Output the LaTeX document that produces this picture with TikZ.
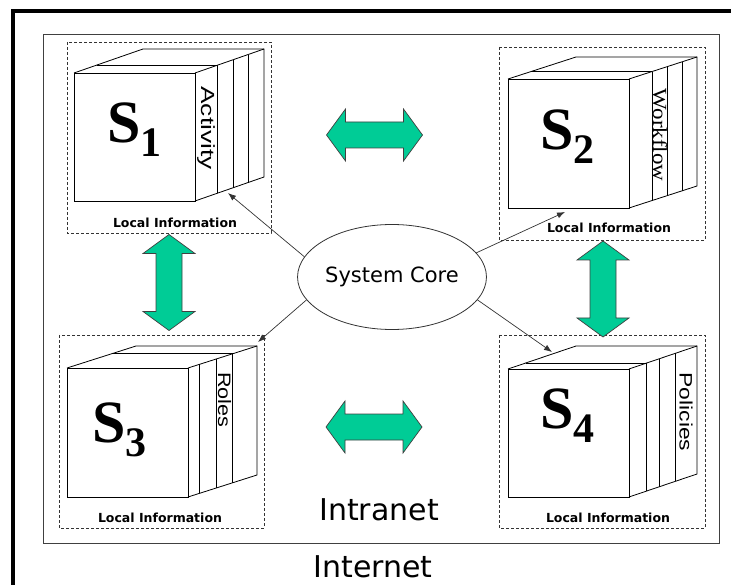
\documentclass[tikz,border=0pt]{standalone}
\usepackage{fontspec}
\usepackage{tikz}
\usetikzlibrary{shapes.geometric,arrows.meta}
\newfontfamily\comicfont{DejaVu Sans}
\newfontfamily\arialfont{Liberation Sans}
\newfontfamily\timesfont{Liberation Serif}
\definecolor{linkgreen}{RGB}{0,204,150}
\tikzset{
  boxline/.style={draw=black, line width=0.8pt},
  infobox/.style={draw=black!80, line width=0.7pt, dash pattern=on 3pt off 2pt},
  linkarrow/.style={fill=linkgreen, draw=black!75, line width=0.7pt},
  corearrow/.style={draw=black!80, line width=0.7pt, -{Latex[length=8pt,width=6pt]}},
  localtext/.style={inner sep=0, font=\comicfont\bfseries\fontsize{12.5}{13}\selectfont},
  bigtext/.style={inner sep=0, font=\comicfont\fontsize{30}{30}\selectfont}
}
\newcommand{\sysbox}[6] {\draw[boxline] (#1,#2) rectangle (#3,#4);
  \draw[boxline] (#1,#2) -- (#1+#5,#2-#6) -- (#3+#5,#2-#6) -- (#3+#5,#4-#6) -- (#3,#4);
  \draw[boxline] (#3,#2) -- (#3+#5,#2-#6);}
\newcommand{\sysslab}[7] {\draw[boxline] (#3+#7*#5,#2-#7*#6) -- (#3+#7*#5,#4-#7*#6);}
\newcommand{\systop}[7] {\draw[boxline] (#1+#7*#5,#2-#7*#6) -- (#3+#7*#5,#2-#7*#6);}
\newcommand{\syslabel}[3] {\node at (#2) (#1) [anchor=base west, inner sep=0] {\timesfont\bfseries\fontsize{60}{60}\selectfont S\raisebox{-14pt}{\fontsize{42}{42}\selectfont #3}};}
\newcommand{\sidelabel}[5] {\node at (#2) (#1) [rotate=-90, xscale=#4, inner sep=0] {#5#3};}
\newcommand{\localinfo}[2] {\node at (#2) (#1) [localtext] {Local Information};}
\newcommand{\linkarrow}[2] {\draw[linkarrow, shift={(#2)}, rotate=#1] (-48,0) -- (-29,-26) -- (-29,-13) -- (29,-13) -- (29,-26) -- (48,0) -- (29,26) -- (29,13) -- (-29,13) -- (-29,26) -- cycle;}

\begin{document}
\begin{tikzpicture}[x=1pt, y=-1pt]
\useasboundingbox (0,0) rectangle (731,585);
\draw[line width=4pt] (13,585) -- (13,11) -- (731,11);
\draw[black!75, line width=1pt] (43,35) rectangle (719,543);

\draw[infobox] (67,42) rectangle (271,233);
\draw[infobox] (499,47) rectangle (705,240);
\draw[infobox] (59,335) rectangle (264,528);
\draw[infobox] (499,335) rectangle (705,528);

\sysbox{74}{73}{195}{201}{69}{24};
\sysslab{74}{73}{195}{201}{69}{24}{0.33};
\sysslab{74}{73}{195}{201}{69}{24}{0.55};
\sysslab{74}{73}{195}{201}{69}{24}{0.77};
\systop{74}{73}{195}{201}{69}{24}{0.33};

\sysbox{508}{79}{629}{208}{68}{22};
\sysslab{508}{79}{629}{208}{68}{22}{0.34};
\sysslab{508}{79}{629}{208}{68}{22}{0.56};
\sysslab{508}{79}{629}{208}{68}{22}{0.78};
\systop{508}{79}{629}{208}{68}{22}{0.34};

\sysbox{67}{368}{188}{497}{69}{22};
\sysslab{67}{368}{188}{497}{69}{22}{0.16};
\sysslab{67}{368}{188}{497}{69}{22}{0.41};
\sysslab{67}{368}{188}{497}{69}{22}{0.65};
\systop{67}{368}{188}{497}{69}{22}{0.65};

\sysbox{508}{369}{629}{497}{68}{23};
\sysslab{508}{369}{629}{497}{68}{23}{0.26};
\sysslab{508}{369}{629}{497}{68}{23}{0.44};
\sysslab{508}{369}{629}{497}{68}{23}{0.68};
\systop{508}{369}{629}{497}{68}{23}{0.26};

\syslabel{s1}{107,143}{1};
\syslabel{s2}{540,150}{2};
\syslabel{s3}{92,442}{3};
\syslabel{s4}{540,428}{4};

\sidelabel{activity}{206,128}{Activity}{1.38}{\arialfont\fontsize{19}{19}\selectfont};
\sidelabel{workflow}{660,135}{Workflow}{1.15}{\timesfont\fontsize{20}{20}\selectfont};
\sidelabel{roles}{224.5,400}{Roles}{1.2}{\arialfont\fontsize{18}{18}\selectfont};
\sidelabel{policies}{686,412}{Policies}{1.27}{\arialfont\fontsize{18}{18}\selectfont};

\localinfo{loc1}{175,223};
\localinfo{loc2}{609,228};
\localinfo{loc3}{160,518};
\localinfo{loc4}{608,518};

\linkarrow{0}{374.5,135};
\linkarrow{0}{374,427};
\linkarrow{90}{169,282.5};
\linkarrow{90}{603,289};

\node at (392,277) (core) [ellipse, draw=black!80, line width=0.8pt, minimum width=182pt, minimum height=105pt, inner sep=0, font=\comicfont\fontsize{21}{21}\selectfont] {System Core};
\coordinate (tip1) at (228,193);
\coordinate (tip2) at (565,212);
\coordinate (tip3) at (258,342);
\coordinate (tip4) at (552,352);
\draw[corearrow] (core.167) -- (tip1);
\draw[corearrow] (core.16) -- (tip2);
\draw[corearrow] (core.195) -- (tip3);
\draw[corearrow] (core.345) -- (tip4);

\node at (379,510) (intranet) [bigtext] {Intranet};
\node at (373,567) (internet) [bigtext] {Internet};
\end{tikzpicture}
\end{document}
